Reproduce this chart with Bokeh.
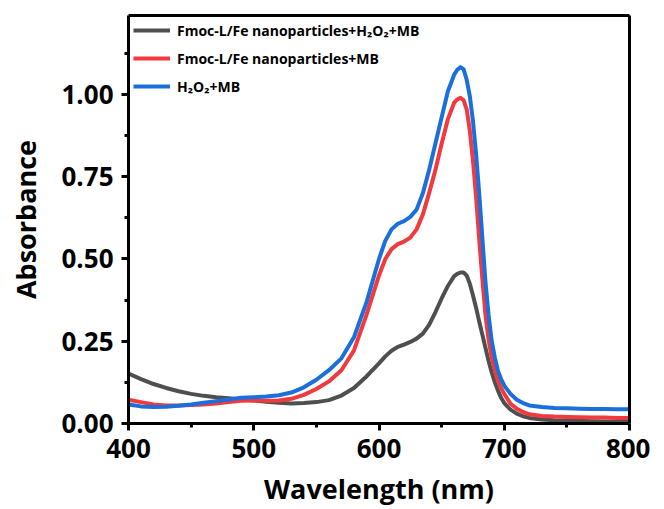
from bokeh.plotting import figure
from bokeh.models import Range1d, FixedTicker, Legend, LegendItem, LinearAxis
from bokeh.embed import file_html
from bokeh.resources import INLINE

wavelength = [400, 410, 420, 430, 440, 450, 460, 470, 480, 490, 500, 510, 520, 530, 540,
              550, 560, 570, 580, 590, 600, 605, 610, 615, 620, 625, 630, 635, 640, 645,
              650, 655, 660, 662.5, 665, 667.5, 670, 672.5, 675, 677.5, 680, 682.5, 685,
              687.5, 690, 692.5, 695, 697.5, 700, 705, 710, 715, 720,
              730, 740, 750, 760, 770, 780, 790, 800]

fe_h2o2_mb = [0.152, 0.135, 0.120, 0.108, 0.098, 0.090, 0.084, 0.080, 0.077, 0.073, 0.070,
              0.066, 0.063, 0.061, 0.062, 0.065, 0.071, 0.085, 0.108, 0.143, 0.183, 0.204,
              0.221, 0.233, 0.240, 0.248, 0.258, 0.273, 0.300, 0.338, 0.380, 0.418,
              0.448, 0.455, 0.459, 0.459, 0.450, 0.425, 0.390, 0.352, 0.310, 0.270, 0.230,
              0.190, 0.155, 0.125, 0.100, 0.078, 0.062, 0.042, 0.030, 0.022,
              0.017, 0.012, 0.010, 0.009, 0.008, 0.007, 0.006, 0.005, 0.005]

fe_mb = [0.072, 0.065, 0.058, 0.055, 0.055, 0.056, 0.058, 0.061, 0.065, 0.069, 0.070,
         0.069, 0.070, 0.075, 0.087, 0.105, 0.128, 0.162, 0.222, 0.330, 0.450, 0.500,
         0.530, 0.545, 0.553, 0.565, 0.590, 0.635, 0.700, 0.770, 0.850, 0.925,
         0.975, 0.985, 0.990, 0.983, 0.955, 0.890, 0.800, 0.690, 0.560, 0.440, 0.330,
         0.255, 0.200, 0.160, 0.130, 0.108, 0.090, 0.060, 0.045, 0.035,
         0.028, 0.023, 0.021, 0.020, 0.019, 0.018, 0.018, 0.017, 0.017]

h2o2_mb = [0.058, 0.052, 0.050, 0.051, 0.054, 0.058, 0.063, 0.068, 0.073, 0.078, 0.080,
           0.082, 0.086, 0.094, 0.110, 0.133, 0.162, 0.198, 0.262, 0.368, 0.500, 0.555,
           0.590, 0.607, 0.615, 0.628, 0.650, 0.700, 0.770, 0.850, 0.930, 1.010,
           1.060, 1.075, 1.083, 1.077, 1.045, 0.995, 0.920, 0.820, 0.700, 0.565, 0.430,
           0.330, 0.250, 0.200, 0.160, 0.135, 0.115, 0.090, 0.072, 0.062,
           0.055, 0.050, 0.047, 0.046, 0.045, 0.044, 0.044, 0.043, 0.043]

series_labels = ["Fmoc-L/Fe nanoparticles+H\u2082O\u2082+MB",
                 "Fmoc-L/Fe nanoparticles+MB",
                 "H\u2082O\u2082+MB"]
series_colors = ["#4f4f4f", "#f2393e", "#1b6fdd"]

x_ticks = [400, 500, 600, 700, 800]
x_minor = [450, 550, 650, 750]
y_ticks = [0.0, 0.25, 0.5, 0.75, 1.0]
y_minor = [0.125, 0.375, 0.625, 0.875, 1.125]
y_tick_labels = ["0.00", "0.25", "0.50", "0.75", "1.00"]

FONT = "Open Sans"

p = figure(width=650, height=509, output_backend="svg", toolbar_location=None,
           x_range=Range1d(400, 800), y_range=Range1d(0, 1.24),
           min_border_left=128, min_border_right=21, min_border_top=15, min_border_bottom=86)

p.xgrid.visible = False
p.ygrid.visible = False
p.outline_line_alpha = 0

renderers = []
for ys, col in zip([fe_h2o2_mb, fe_mb, h2o2_mb], series_colors):
    r = p.line(wavelength, ys, line_color=col, line_width=4, line_join="round")
    renderers.append(r)

legend = Legend(items=[LegendItem(label=l, renderers=[r]) for l, r in zip(series_labels, renderers)],
                location="top_left", margin=0, padding=5, spacing=8,
                glyph_width=37, glyph_height=20, label_standoff=7,
                label_text_font=FONT, label_text_font_style="bold",
                label_text_font_size="14px", label_text_color="black",
                background_fill_alpha=0, border_line_alpha=0)
p.add_layout(legend)

for ax in (p.xaxis[0], p.yaxis[0]):
    ax.axis_line_width = 3
    ax.major_tick_line_width = 3
    ax.minor_tick_line_width = 3
    ax.major_tick_out = 7
    ax.major_tick_in = 0
    ax.minor_tick_out = 4
    ax.minor_tick_in = 0
    ax.major_label_text_font = FONT
    ax.major_label_text_font_style = "bold"
    ax.major_label_text_font_size = "26px"
    ax.major_label_text_color = "black"
    ax.axis_label_text_font = FONT
    ax.axis_label_text_font_style = "bold"
    ax.axis_label_text_font_size = "27px"
    ax.axis_label_text_color = "black"

p.xaxis.ticker = FixedTicker(ticks=x_ticks, minor_ticks=x_minor)
p.yaxis.ticker = FixedTicker(ticks=y_ticks, minor_ticks=y_minor)
p.yaxis.major_label_overrides = {t: s for t, s in zip(y_ticks, y_tick_labels)}
p.xaxis.axis_label = "Wavelength (nm)"
p.yaxis.axis_label = "Absorbance"
p.xaxis.major_label_standoff = 8
p.yaxis.major_label_standoff = 8
p.xaxis.axis_label_standoff = 9
p.yaxis.axis_label_standoff = 14

# frame edges on top and right (plain lines, no ticks)
for loc in ("above", "right"):
    ax = LinearAxis(ticker=FixedTicker(ticks=[]), axis_line_width=3,
                    major_tick_line_alpha=0, minor_tick_line_alpha=0,
                    major_label_text_font_size="0px")
    p.add_layout(ax, loc)

open("out.html", "w").write(file_html(p, INLINE))
